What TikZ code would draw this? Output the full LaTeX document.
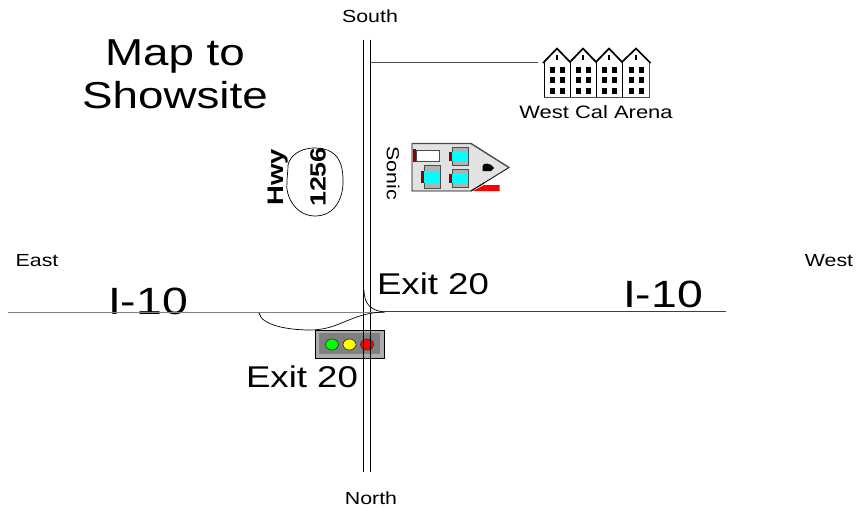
\documentclass[tikz,border=0pt]{standalone}
\usepackage{fontspec}
\newfontfamily\wf[FakeStretch=1.22]{Liberation Sans}
\newcommand{\fs}[1]{\fontsize{#1}{#1}\selectfont\wf}
\definecolor{bodygray}{HTML}{E2E2E2}
\definecolor{darkred}{HTML}{8B0000}
\definecolor{cy}{HTML}{00FFFF}
\definecolor{gr}{HTML}{00FF00}
\definecolor{ye}{HTML}{FFFF00}
\definecolor{re}{HTML}{FF0000}
\tikzset{
  lab/.style={inner sep=0pt,font=\fs{17.5}},
  big/.style={inner sep=0pt,font=\fs{30}},
  hw/.style={inner sep=0pt,font=\fs{38}},
  title/.style={inner sep=0pt,anchor=base,font=\fs{37.5}},
  road/.style={draw=black,line width=0.8pt},
  thin/.style={draw=black,line width=0.7pt},
  win/.style={fill=black,draw=none},
  car/.style={fill=cy,draw=none},
  hood/.style={fill=gray!60,draw=black!70,line width=0.5pt},
  lamp/.style={draw=black!80,line width=0.7pt},
}
\begin{document}
\begin{tikzpicture}[x=1pt,y=-1pt]
\useasboundingbox (0,0) rectangle (859,508);
% text
\node[lab] (south) at (370,16) {South};
\node[lab] (north) at (371,498) {North};
\node[lab] (east) at (37,261) {East};
\node[lab] (west) at (829,261) {West};
\node[title] (t1) at (175,66) {Map to};
\node[title] (t2) at (175,109) {Showsite};
\node[hw] (i1) at (148,301) {I-10};
\node[hw] (i2) at (663,294) {I-10};
\node[big] (e1) at (433,284) {Exit 20};
\node[big] (e2) at (302,377) {Exit 20};
\node[lab,font=\fs{18}] (arena) at (596,112) {West Cal Arena};
\node[lab,rotate=-90] (sonic) at (393,173) {Sonic};
% roads
\coordinate (vtL) at (363.5,40); \coordinate (vbL) at (363.5,472);
\coordinate (vtR) at (370.5,40); \coordinate (vbR) at (370.5,472);
\coordinate (hL) at (8,312.5); \coordinate (hM) at (384,312.5);
\coordinate (hN) at (384,311); \coordinate (hR) at (726,311);
\coordinate (aL) at (371,62); \coordinate (aR) at (538,62);
% traffic light
\node[draw=black,line width=0.7pt,fill=gray!65,minimum width=69pt,minimum height=28pt,inner sep=0pt] (light) at (349.5,344) {};
\node[fill=gray,draw=none,minimum width=61pt,minimum height=21pt,inner sep=0pt] (lightin) at (349.5,343.5) {};
\draw[lamp,fill=gr] (332,344.5) ellipse (6.5 and 5.5);
\draw[lamp,fill=ye] (349.5,344.5) ellipse (6.5 and 5.5);
\draw[lamp,fill=re] (367,344.5) ellipse (6.5 and 5.5);
\draw[road] (vtL) -- (vbL);
\draw[road] (vtR) -- (vbR);
\draw[draw=gray,line width=1.2pt] (hL) -- (hM);
\draw[draw=black!75,line width=0.8pt] (hN) -- (hR);
\draw[draw=black!70,line width=0.8pt] (aL) -- (aR);
\draw[thin] (259,313) .. controls (262,326) and (290,330) .. (310,330)
  .. controls (340,330) and (350,313) .. (384,312);
\draw[thin] (364,290) .. controls (364,305) and (372,311) .. (385,312);
% hwy shield
\draw[thin] (287,182) .. controls (285,195) and (295,216) .. (315,216)
  .. controls (335,216) and (343,198) .. (343,182)
  .. controls (343,172) and (343,148) .. (315,148)
  .. controls (298,148) and (290,157) .. (288,165)
  .. controls (288,172) and (287,176) .. (287,182) -- cycle;
\node[inner sep=0pt,rotate=90,font=\fs{22.5}\bfseries] (hwy) at (278,177) {Hwy};
\node[inner sep=0pt,rotate=90,font=\fs{22}\bfseries] (n1256) at (318,177) {1256};
% Sonic building
\draw[black,line width=0.8pt,fill=bodygray] (412,143.5) -- (471,143.5) -- (509,167.5) -- (471,191) -- (412,191) -- cycle;
\draw[draw=black!70,line width=1.2pt] (412,143.5) -- (471,143.5) -- (509,167.5);
\fill[re] (473,191) -- (484,185) -- (499.5,185) -- (499.5,191) -- cycle;
\draw[black,line width=0.8pt] (471,191) -- (484,183);
\fill[black] (482.5,171) -- (482.5,166) .. controls (483,162.5) and (491,162.5) .. (494,168) -- (491,171) -- cycle;
% lot rows
\fill[darkred] (413,149) rectangle (416,162);
\draw[draw=black!70,line width=0.7pt,fill=white] (416,150) rectangle (439,161);
\foreach \x/\y in {452/147.5,452/169.5}{
  \draw[hood] (\x,\y) rectangle (\x+16.5,\y+17.5);
  \fill[darkred] (\x-3,\y+4) rectangle (\x,\y+13.5);
  \fill[car] (\x,\y+4) rectangle (\x+16,\y+13.5);
}
\draw[hood] (424,165) rectangle (440,188);
\fill[darkred] (421,171) rectangle (424,183);
\fill[car] (424,171) rectangle (440,183);
% arena
\fill[white] (544.5,97) -- (544.5,62) -- (557,48) -- (570,62) -- (583,48) -- (596,62) -- (609,48) -- (622,62) -- (636,48) -- (649,62) -- (649,97) -- cycle;
\draw[black,line width=1pt] (544.5,62) -- (544.5,97) (570.5,62) -- (570.5,97) (596.5,62) -- (596.5,97) (622.5,62) -- (622.5,97);
\draw[black!70,line width=1.4pt] (544,97.3) -- (649.5,97.3) -- (649.5,62);
\draw[black,line width=1.7pt,line join=miter] (543,63) -- (557,48.5) -- (570,62) -- (583,48.5) -- (596,62) -- (609,48.5) -- (622,62) -- (636,48.5) -- (650.5,63);
\foreach \cx in {557,583,609,636}{
  \fill[black] (\cx-1,55) rectangle (\cx+1,60);
  \foreach \yy in {67,77.5,88}{
    \fill[win] (\cx-7.5,\yy) rectangle (\cx-2,\yy+6);
    \fill[win] (\cx+2.5,\yy) rectangle (\cx+7.5,\yy+6);
  }
}
\end{tikzpicture}
\end{document}
